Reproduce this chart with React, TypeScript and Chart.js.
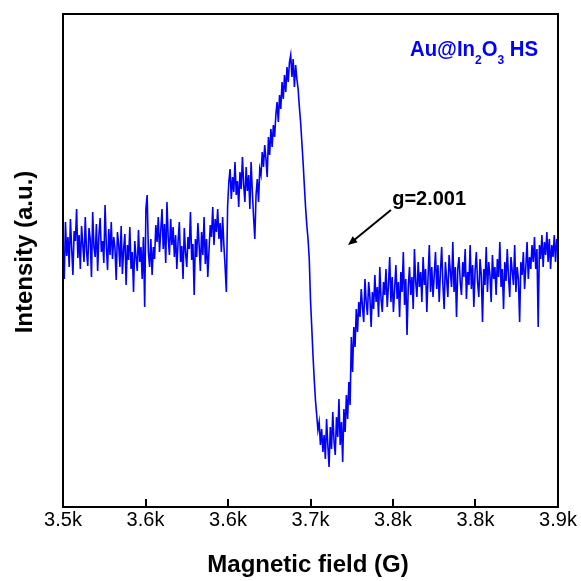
import React, { useEffect, useRef } from 'react';
import { Chart, registerables } from 'chart.js';

Chart.register(...registerables);

// ---- data ----
const fieldStart = 3500; // G
const fieldStep = 1; // G
const intensity: number[] = [
  262, 228, 285, 251, 270, 240, 288, 259, 232, 276,
  266, 298, 249, 272, 238, 281, 262, 245, 290, 256,
  241, 279, 268, 230, 295, 260, 250, 283, 236, 271,
  289, 255, 266, 244, 302, 262, 237, 278, 252, 285,
  248, 270, 259, 227, 275, 263, 240, 281, 233, 258,
  273, 222, 262, 247, 280, 238, 255, 215, 266, 250,
  236, 277, 245, 260, 228, 270, 200, 298, 312, 255,
  240, 268, 232, 260, 248, 282, 265, 290, 255, 276,
  298, 258, 283, 244, 305, 270, 252, 288, 262, 280,
  250, 272, 238, 266, 285, 245, 261, 228, 279, 255,
  240, 270, 258, 295, 247, 263, 212, 268, 250, 284,
  262, 236, 275, 252, 290, 243, 268, 230, 257, 282,
  270, 300, 262, 288, 275, 298, 268, 284, 255, 290,
  262, 240, 215, 300, 325, 338, 308, 330, 315, 345,
  312, 326, 300, 335, 318, 350, 322, 305, 340, 316,
  332, 298, 345, 315, 290, 268, 312, 328, 305, 338,
  332, 355, 340, 362, 348, 330, 370, 352, 378, 360,
  382, 370, 392, 405, 385, 412, 398, 425, 408, 432,
  415, 440, 425, 445, 452, 430, 448, 420, 442, 428,
  418, 400, 385, 365, 345, 322, 300, 282, 268, 248,
  207, 180, 152, 128, 107, 92, 77, 85, 62, 78,
  55, 72, 48, 88, 62, 40, 80, 58, 95, 66,
  52, 90, 70, 108, 62, 85, 45, 98, 75, 112,
  88, 125, 102, 170, 135, 180, 160, 198, 175, 205,
  190, 218, 200, 185, 228, 205, 192, 225, 210, 180,
  215, 198, 232, 205, 220, 190, 240, 208, 195, 225,
  212, 238, 200, 222, 250, 205, 230, 195, 218, 242,
  208, 225, 190, 235, 215, 255, 202, 228, 172, 220,
  240, 212, 230, 198, 258, 225, 210, 245, 220, 235,
  205, 250, 222, 238, 195, 230, 262, 215, 240, 210,
  232, 255, 218, 242, 205, 235, 260, 222, 198, 245,
  228, 210, 252, 235, 220, 265, 215, 240, 190, 238,
  250, 225, 212, 245, 230, 258, 208, 235, 222, 262,
  218, 242, 200, 236, 255, 225, 210, 248, 232, 185,
  238, 222, 260, 215, 245, 232, 205, 252, 228, 240,
  212, 248, 230, 265, 220, 238, 198, 245, 226, 258,
  230, 210, 250, 236, 222, 262, 215, 240, 228, 185,
  245, 232, 255, 218, 240, 265, 228, 250, 238, 262,
  245, 270, 238, 258, 180, 262, 248, 272, 240, 265,
  252, 275, 245, 268, 238, 262, 250, 272, 245, 268,
  258,
];
const xTicks: number[] = [3500, 3566.67, 3633.33, 3700, 3766.67, 3833.33, 3900];
const xMin = 3500;
const xMax = 3900;
const yMin = 0;
const yMax = 493;
const xTitle = 'Magnetic field (G)';
const yTitle = 'Intensity (a.u.)';
const sampleParts: { text: string; sub: boolean }[] = [
  { text: 'Au@In', sub: false },
  { text: '2', sub: true },
  { text: 'O', sub: false },
  { text: '3', sub: true },
  { text: ' HS', sub: false },
];
const sampleAt = { x: 3780.4, y: 451 };
const gLabel = 'g=2.001';
const gLabelAt = { x: 3766, y: 302 };
const arrowFrom = { x: 3765, y: 297 };
const arrowTo = { x: 3730.3, y: 262 };

const FONT = '"Liberation Sans", Arial, Helvetica, sans-serif';

const framePlugin = {
  id: 'frameAndText',
  afterDraw(chart: any) {
    const { ctx, chartArea } = chart;
    const xs = chart.scales.x;
    const ys = chart.scales.y;
    const { left, right, top, bottom } = chartArea;
    ctx.save();
    // frame
    ctx.strokeStyle = '#000';
    ctx.lineWidth = 2;
    ctx.strokeRect(left, top, right - left, bottom - top);
    // inward ticks on bottom axis
    xTicks.forEach((v) => {
      const px = Math.round(xs.getPixelForValue(v));
      ctx.beginPath();
      ctx.moveTo(px, bottom);
      ctx.lineTo(px, bottom - 8);
      ctx.stroke();
    });
    // axis titles
    ctx.fillStyle = '#000';
    ctx.font = `bold 24px ${FONT}`;
    ctx.textAlign = 'center';
    ctx.textBaseline = 'alphabetic';
    ctx.fillText(xTitle, 308, 572);
    ctx.save();
    ctx.translate(32, 252);
    ctx.rotate(-Math.PI / 2);
    ctx.fillText(yTitle, 0, 0);
    ctx.restore();

    // g label + arrow
    ctx.font = `bold 20px ${FONT}`;
    ctx.textAlign = 'left';
    ctx.fillText(gLabel, xs.getPixelForValue(gLabelAt.x), ys.getPixelForValue(gLabelAt.y));
    const x1 = xs.getPixelForValue(arrowFrom.x);
    const y1 = ys.getPixelForValue(arrowFrom.y);
    const x2 = xs.getPixelForValue(arrowTo.x);
    const y2 = ys.getPixelForValue(arrowTo.y);
    const ang = Math.atan2(y2 - y1, x2 - x1);
    const headLen = 10;
    ctx.beginPath();
    ctx.moveTo(x1, y1);
    ctx.lineTo(x2 - Math.cos(ang) * headLen * 0.8, y2 - Math.sin(ang) * headLen * 0.8);
    ctx.stroke();
    ctx.beginPath();
    ctx.moveTo(x2, y2);
    ctx.lineTo(x2 - headLen * Math.cos(ang - 0.4), y2 - headLen * Math.sin(ang - 0.4));
    ctx.lineTo(x2 - headLen * Math.cos(ang + 0.4), y2 - headLen * Math.sin(ang + 0.4));
    ctx.closePath();
    ctx.fill();

    // sample label with subscripts
    ctx.fillStyle = '#0000FF';
    const mainFont = `bold 22px ${FONT}`;
    const subFont = `bold 13px ${FONT}`;
    let total = 0;
    sampleParts.forEach((p) => {
      ctx.font = p.sub ? subFont : mainFont;
      total += ctx.measureText(p.text).width;
    });
    const targetW = 128;
    const sx = targetW / total;
    ctx.save();
    ctx.translate(xs.getPixelForValue(sampleAt.x), ys.getPixelForValue(sampleAt.y));
    ctx.scale(sx, 1);
    let cx = 0;
    sampleParts.forEach((p) => {
      ctx.font = p.sub ? subFont : mainFont;
      ctx.fillText(p.text, cx, p.sub ? 8 : 0);
      cx += ctx.measureText(p.text).width;
    });
    ctx.restore();
    ctx.restore();
  },
};

export default function App() {
  const canvasRef = useRef<HTMLCanvasElement | null>(null);
  useEffect(() => {
    if (!canvasRef.current) return;
    const points = intensity.map((v, i) => ({ x: fieldStart + i * fieldStep, y: v }));
    const chart = new Chart(canvasRef.current, {
      type: 'line',
      data: {
        datasets: [
          {
            data: points,
            borderColor: '#0000FF',
            borderWidth: 1.6,
            pointRadius: 0,
            tension: 0,
            fill: false,
          },
        ],
      },
      options: {
        responsive: false,
        animation: false,
        events: [],
        layout: { padding: { left: 63, top: 14, right: 23, bottom: 0 } },
        plugins: { legend: { display: false }, tooltip: { enabled: false } },
        scales: {
          x: {
            type: 'linear',
            min: xMin,
            max: xMax,
            afterBuildTicks: (scale: any) => {
              scale.ticks = xTicks.map((v) => ({ value: v }));
            },
            afterFit: (scale: any) => {
              scale.height = 74;
            },
            grid: { display: false, drawTicks: false },
            border: { display: false },
            ticks: {
              autoSkip: false,
              maxRotation: 0,
              padding: 1,
              color: '#000',
              font: { family: FONT, size: 20 },
              callback: (v: any) => (Number(v) / 1000).toFixed(1) + 'k',
            },
          },
          y: {
            type: 'linear',
            display: false,
            min: yMin,
            max: yMax,
          },
        },
      },
      plugins: [framePlugin],
    });
    return () => chart.destroy();
  }, []);
  return (
    <div style={{ position: 'absolute', left: 0, top: 0, width: 581, height: 581, background: '#fff' }}>
      <canvas ref={canvasRef} width={581} height={581} style={{ display: 'block' }} />
    </div>
  );
}
